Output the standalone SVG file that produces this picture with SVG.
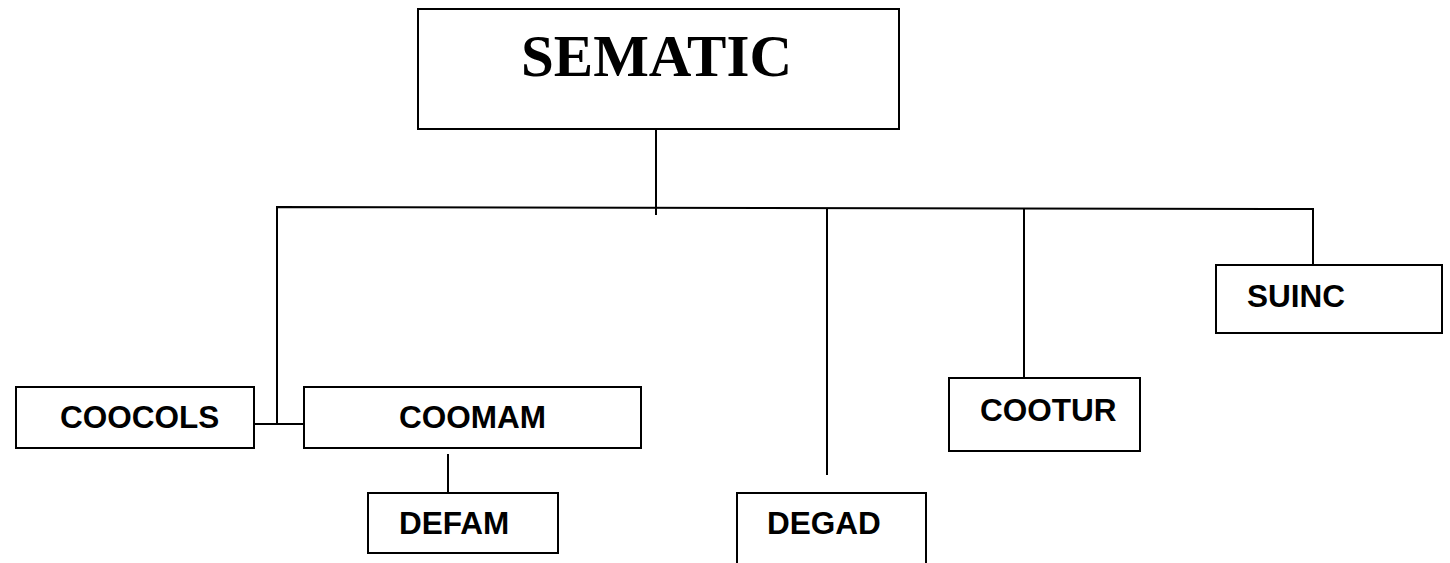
<svg xmlns="http://www.w3.org/2000/svg" width="1450" height="563" viewBox="0 0 1450 563">
<style>
.box{fill:#fff;stroke:#000;stroke-width:2}
.ln{stroke:#000;stroke-width:2;fill:none}
.lbl{font-family:"Liberation Sans",Arial,sans-serif;font-weight:bold;font-size:31.5px;fill:#000}
.title{font-family:"Liberation Serif","Times New Roman",serif;font-weight:bold;font-size:59px;fill:#000}
</style>
<rect width="1450" height="563" fill="#fff"/>
<g id="connectors">
<line class="ln" x1="656" y1="129" x2="656" y2="215"/>
<polyline class="ln" points="277,425 277,207 1313,209 1313,278"/>
<line class="ln" x1="254" y1="424" x2="304" y2="424"/>
<line class="ln" x1="448" y1="454" x2="448" y2="493"/>
<line class="ln" x1="827" y1="208" x2="827" y2="475"/>
<line class="ln" x1="1024" y1="208" x2="1024" y2="378"/>
</g>
<g id="sematic">
<rect class="box" x="418" y="9" width="481" height="120"/>
<text class="title" x="521" y="76">SEMATIC</text>
</g>
<g id="coocols">
<rect class="box" x="16" y="387" width="238" height="61"/>
<text class="lbl" x="60" y="428">COOCOLS</text>
</g>
<g id="coomam">
<rect class="box" x="304" y="387" width="337" height="61"/>
<text class="lbl" x="399" y="428">COOMAM</text>
</g>
<g id="defam">
<rect class="box" x="368" y="493" width="190" height="60"/>
<text class="lbl" x="399" y="534">DEFAM</text>
</g>
<g id="degad">
<rect class="box" x="737" y="493" width="189" height="80"/>
<text class="lbl" x="767" y="534">DEGAD</text>
</g>
<g id="cootur">
<rect class="box" x="949" y="378" width="191" height="73"/>
<text class="lbl" x="980" y="421">COOTUR</text>
</g>
<g id="suinc">
<rect class="box" x="1216" y="265" width="226" height="68"/>
<text class="lbl" x="1247" y="307">SUINC</text>
</g>
</svg>
